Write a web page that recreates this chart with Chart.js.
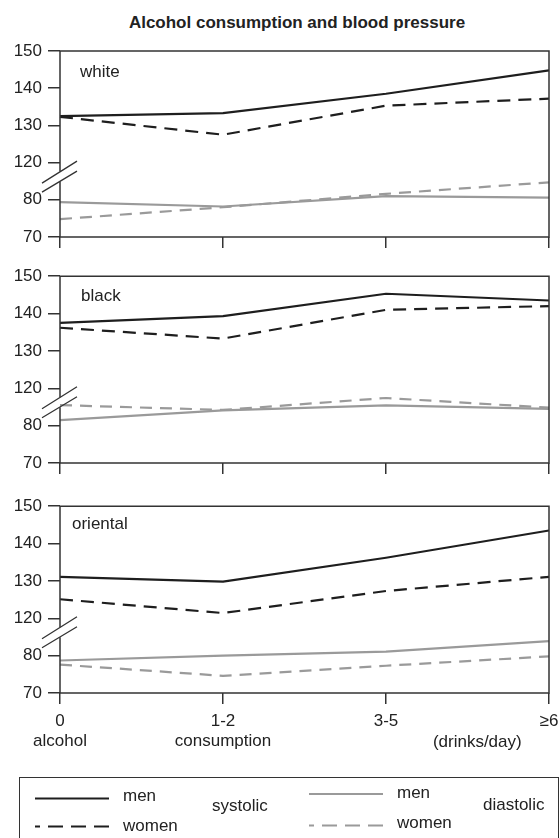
<!DOCTYPE html>
<html>
<head>
<meta charset="utf-8">
<script src="https://cdn.jsdelivr.net/npm/chart.js@4.4.1/dist/chart.umd.min.js"></script>
<style>
  html, body { margin: 0; padding: 0; background: #fff; }
  body { width: 560px; height: 838px; position: relative; overflow: hidden;
         font-family: "Liberation Sans", Arial, sans-serif; color: #222; }
  .title { position: absolute; left: 0; width: 594px; top: 14px; text-align: center;
           font-weight: bold; font-size: 17px; line-height: 1; }
  canvas { position: absolute; left: 0; }
  .legend { position: absolute; left: 19px; top: 777px; width: 538px; height: 90px;
            border: 1.5px solid #333; }
  .lg { position: absolute; font-size: 17px; line-height: 1; white-space: nowrap; }
  svg.sw { position: absolute; left: 0; top: 0; }
</style>
</head>
<body>
<div class="title">Alcohol consumption and blood pressure</div>

<canvas id="c1" width="580" height="230" style="top:30px"></canvas>
<canvas id="c2" width="580" height="230" style="top:260px"></canvas>
<canvas id="c3" width="580" height="290" style="top:490px"></canvas>

<div class="legend"></div>
<svg class="sw" width="560" height="838">
  <line x1="35" y1="798.5" x2="109" y2="798.5" stroke="#1e1e1e" stroke-width="2.2"/>
  <line x1="109" y1="826.5" x2="35" y2="826.5" stroke="#1e1e1e" stroke-width="2.2" stroke-dasharray="15 8"/>
  <line x1="309" y1="794" x2="383" y2="794" stroke="#9a9a9a" stroke-width="2.2"/>
  <line x1="383" y1="825.5" x2="309" y2="825.5" stroke="#9a9a9a" stroke-width="2.2" stroke-dasharray="15 8"/>
</svg>
<div class="lg" style="left:123px; top:787px">men</div>
<div class="lg" style="left:123px; top:817px">women</div>
<div class="lg" style="left:212px; top:797px">systolic</div>
<div class="lg" style="left:397px; top:784px">men</div>
<div class="lg" style="left:397px; top:814px">women</div>
<div class="lg" style="left:483px; top:796px">diastolic</div>

<script>
  // ── Data (mm Hg) ──────────────────────────────────────────
  const categories = ['0', '1-2', '3-5', '≥6'];
  const categorySub = ['alcohol', 'consumption', '', ''];
  const yTickValues = [70, 80, 120, 130, 140, 150];

  const whiteMenSys = [132.5, 133.3, 138.5, 144.8];
  const whiteWomenSys = [132.3, 127.5, 135.3, 137.2];
  const whiteMenDia = [79.4, 78.2, 81.0, 80.6];
  const whiteWomenDia = [74.8, 78.0, 81.6, 84.7];

  const blackMenSys = [137.5, 139.3, 145.3, 143.5];
  const blackWomenSys = [136.2, 133.3, 141.0, 142.0];
  const blackMenDia = [81.5, 84.1, 85.4, 84.5];
  const blackWomenDia = [85.5, 84.2, 87.4, 84.8];

  const orientalMenSys = [131.1, 129.8, 136.2, 143.5];
  const orientalWomenSys = [125.1, 121.4, 127.3, 131.1];
  const orientalMenDia = [78.7, 80.0, 81.1, 83.9];
  const orientalWomenDia = [77.6, 74.6, 77.3, 79.8];

  // ── Broken axis: 80..120 collapsed into one step ─────────
  function toAxis(v) { return v >= 100 ? v - 30 : v; }
  function fromAxis(v) { return v > 80 ? v + 30 : v; }

  const BLACK = '#1e1e1e';
  const GREY = '#9a9a9a';
  const AXIS = '#333';

  Chart.defaults.font.family = '"Liberation Sans", Arial, sans-serif';
  Chart.defaults.font.size = 17;
  Chart.defaults.color = '#222';

  // box round the plot, with the // break on the left axis
  const frame = {
    id: 'frame',
    afterDraw(chart, args, opts) {
      const a = chart.chartArea;
      const ctx = chart.ctx;
      const y120 = chart.scales.y.getPixelForValue(toAxis(120));
      ctx.save();
      ctx.strokeStyle = AXIS;
      ctx.lineWidth = 1.5;
      ctx.beginPath();
      ctx.moveTo(a.left, y120 + 9);
      ctx.lineTo(a.left, a.top);
      ctx.lineTo(a.right, a.top);
      ctx.lineTo(a.right, a.bottom);
      ctx.lineTo(a.left, a.bottom);
      ctx.lineTo(a.left, y120 + 19);
      ctx.stroke();

      ctx.lineWidth = 1.3;
      ctx.beginPath();
      ctx.moveTo(a.left - 18, y120 + 20.5);
      ctx.lineTo(a.left + 17, y120 - 1.5);
      ctx.moveTo(a.left - 18, y120 + 29.5);
      ctx.lineTo(a.left + 17, y120 + 8.5);
      ctx.stroke();

      ctx.fillStyle = '#222';
      ctx.font = '17px "Liberation Sans", Arial, sans-serif';
      ctx.textBaseline = 'alphabetic';
      ctx.textAlign = 'left';
      ctx.fillText(opts.label, a.left + opts.dx, a.top + opts.dy);

      if (opts.unit) {
        const xs = chart.scales.x;
        const p2 = xs.getPixelForValue(2);
        const p3 = xs.getPixelForValue(3);
        ctx.textAlign = 'center';
        ctx.fillText(opts.unit, p2 + 0.56 * (p3 - p2), a.bottom + 53.7);
      }
      ctx.restore();
    }
  };

  function makePanel(id, label, dx, dy, padTop, padBottom, menSys, womenSys, menDia, womenDia, bottom) {
    const lineBase = { borderWidth: 2.2, pointRadius: 0, tension: 0, fill: false,
                       borderJoinStyle: 'round', borderCapStyle: 'butt' };
    return new Chart(document.getElementById(id), {
      type: 'line',
      data: {
        labels: categories.map(function (c, i) { return categorySub[i] ? [c, categorySub[i]] : c; }),
        datasets: [
          Object.assign({ data: menDia.map(toAxis), borderColor: GREY }, lineBase),
          Object.assign({ data: womenDia.map(toAxis), borderColor: GREY, borderDash: [12, 8] }, lineBase),
          Object.assign({ data: menSys.map(toAxis), borderColor: BLACK }, lineBase),
          Object.assign({ data: womenSys.map(toAxis), borderColor: BLACK, borderDash: [13, 8] }, lineBase),
        ],
      },
      options: {
        responsive: false,
        animation: false,
        layout: { padding: { top: padTop, bottom: padBottom, left: 0, right: 31 } },
        plugins: {
          legend: { display: false },
          tooltip: { enabled: false },
          frame: { label: label, dx: dx, dy: dy, unit: bottom ? '(drinks/day)' : '' },
        },
        scales: {
          x: {
            type: 'category',
            offset: false,
            border: { display: false },
            grid: { drawOnChartArea: false, drawTicks: true, tickLength: 11, color: AXIS, lineWidth: 1.5 },
            ticks: { display: bottom, padding: 8, maxRotation: 0, autoSkip: false,
                     font: { size: 17, lineHeight: 1.15 }, color: '#222' },
            afterFit: function (s) { s.height = bottom ? 70 : 11; },
          },
          y: {
            type: 'linear',
            min: 70,
            max: 120,
            border: { display: false },
            grid: { drawOnChartArea: false, drawTicks: true, tickLength: 12, color: AXIS, lineWidth: 1.5 },
            ticks: { stepSize: 10, padding: 6, color: '#222', font: { size: 17 },
                     callback: function (v) { return yTickValues.indexOf(fromAxis(v)) >= 0 ? fromAxis(v) : ''; } },
            afterFit: function (s) { s.width = 60; },
          },
        },
      },
      plugins: [frame],
    });
  }

  makePanel('c1', 'white', 20, 26.3, 21, 12, whiteMenSys, whiteWomenSys, whiteMenDia, whiteWomenDia, false);
  makePanel('c2', 'black', 21, 24.3, 14, 16, blackMenSys, blackWomenSys, blackMenDia, blackWomenDia, false);
  makePanel('c3', 'oriental', 12, 22.7, 14, 17, orientalMenSys, orientalWomenSys, orientalMenDia, orientalWomenDia, true);
</script>
</body>
</html>
